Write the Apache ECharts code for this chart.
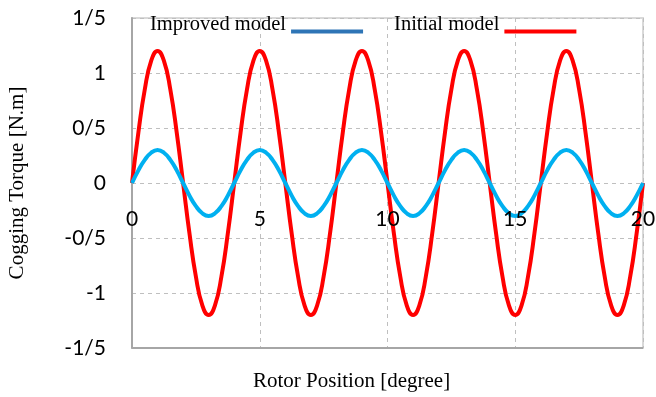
<!DOCTYPE html>
<html>
<head>
<meta charset="utf-8">
<script src="https://cdn.jsdelivr.net/npm/echarts@6/dist/echarts.min.js"></script>
<style>
  html, body { margin: 0; padding: 0; background: #ffffff; }
  #chart { width: 656px; height: 397px; }
</style>
</head>
<body>
<div id="chart"></div>
<script>
// Rotor position samples (degree)
const rotorPosition = [
  0, 0.25, 0.5, 0.75, 1, 1.25, 1.5, 1.75, 2, 2.25, 2.5, 2.75, 3, 3.25, 3.5, 3.75,
  4, 4.25, 4.5, 4.75, 5, 5.25, 5.5, 5.75, 6, 6.25, 6.5, 6.75, 7, 7.25, 7.5, 7.75,
  8, 8.25, 8.5, 8.75, 9, 9.25, 9.5, 9.75, 10, 10.25, 10.5, 10.75, 11, 11.25, 11.5, 11.75,
  12, 12.25, 12.5, 12.75, 13, 13.25, 13.5, 13.75, 14, 14.25, 14.5, 14.75, 15, 15.25, 15.5, 15.75,
  16, 16.25, 16.5, 16.75, 17, 17.25, 17.5, 17.75, 18, 18.25, 18.5, 18.75, 19, 19.25, 19.5, 19.75,
  20
];

// Cogging torque of the initial model (N.m)
const initialTorque = [
  0, 0.46, 0.85, 1.11, 1.2, 1.11, 0.85, 0.46, 0, -0.46, -0.85, -1.11, -1.2, -1.11, -0.85, -0.46,
  0, 0.46, 0.85, 1.11, 1.2, 1.11, 0.85, 0.46, 0, -0.46, -0.85, -1.11, -1.2, -1.11, -0.85, -0.46,
  0, 0.46, 0.85, 1.11, 1.2, 1.11, 0.85, 0.46, 0, -0.46, -0.85, -1.11, -1.2, -1.11, -0.85, -0.46,
  0, 0.46, 0.85, 1.11, 1.2, 1.11, 0.85, 0.46, 0, -0.46, -0.85, -1.11, -1.2, -1.11, -0.85, -0.46,
  0, 0.46, 0.85, 1.11, 1.2, 1.11, 0.85, 0.46, 0, -0.46, -0.85, -1.11, -1.2, -1.11, -0.85, -0.46,
  0
];

// Cogging torque of the improved model (N.m)
const improvedTorque = [
  0, 0.115, 0.21, 0.275, 0.3, 0.275, 0.21, 0.115, 0, -0.115, -0.21, -0.275, -0.3, -0.275, -0.21, -0.115,
  0, 0.115, 0.21, 0.275, 0.3, 0.275, 0.21, 0.115, 0, -0.115, -0.21, -0.275, -0.3, -0.275, -0.21, -0.115,
  0, 0.115, 0.21, 0.275, 0.3, 0.275, 0.21, 0.115, 0, -0.115, -0.21, -0.275, -0.3, -0.275, -0.21, -0.115,
  0, 0.115, 0.21, 0.275, 0.3, 0.275, 0.21, 0.115, 0, -0.115, -0.21, -0.275, -0.3, -0.275, -0.21, -0.115,
  0, 0.115, 0.21, 0.275, 0.3, 0.275, 0.21, 0.115, 0, -0.115, -0.21, -0.275, -0.3, -0.275, -0.21, -0.115,
  0
];

// Y tick values and their printed labels (slash as decimal separator)
const yTickValues = [-1.5, -1, -0.5, 0, 0.5, 1, 1.5];
const yTickLabels = ['-1/5', '-1', '-0/5', '0', '0/5', '1', '1/5'];

// X tick labels
const xTickValues = [0, 5, 10, 15, 20];
const xTickLabels = ['0', '5', '10', '15', '20'];

const seriesNames = ['Improved model', 'Initial model'];
const xTitle = 'Rotor Position [degree]';
const yTitle = 'Cogging Torque [N.m]';

const pairs = (ys) => rotorPosition.map((x, i) => [x, ys[i]]);

const tickFont = 'Lato, "Open Sans", sans-serif';
const serifFont = '"Liberation Serif", "Times New Roman", serif';

// legend swatch: a short bar sitting low beside the text
const legendIcon = 'path://M0,0L1,0M0,14L72,14L72,18L0,18Z';

// plot box (px)
const plotTop = 18;
const plotBottom = 49;
const plotHeight = 397 - plotTop - plotBottom;

const gridLine = { color: '#bfbfbf', type: [4, 4], width: 1 };

const chart = echarts.init(document.getElementById('chart'), null, { renderer: 'canvas' });

chart.setOption({
  animation: false,
  backgroundColor: '#ffffff',
  grid: {
    left: 132, right: 13, top: plotTop, bottom: plotBottom,
    outerBoundsMode: 'none',
    containLabel: false,
    show: true,
    borderColor: '#d9d9d9',
    borderWidth: 2,
    backgroundColor: 'transparent'
  },
  legend: {
    left: 145,
    top: 9,
    align: 'right',
    itemWidth: 72,
    itemHeight: 18,
    itemGap: 31,
    icon: legendIcon,
    selectedMode: false,
    textStyle: {
      fontFamily: serifFont,
      fontSize: 20.5,
      color: '#000000'
    },
    data: [
      { name: seriesNames[0], itemStyle: { color: '#2e75b6' } },
      { name: seriesNames[1], itemStyle: { color: '#ff0000' } }
    ]
  },
  graphic: [
    {
      type: 'text',
      left: 253,
      top: 371,
      silent: true,
      style: {
        text: xTitle,
        fontFamily: serifFont,
        fontSize: 21,
        fill: '#000000'
      }
    }
  ],
  xAxis: [
    {
      // vertical dashed grid behind the curves
      type: 'value',
      min: 0, max: 20, interval: 5,
      position: 'bottom',
      axisLine: { show: false, onZero: false },
      axisTick: { show: false },
      axisLabel: { show: false },
      splitLine: { show: true, lineStyle: gridLine }
    },
    {
      // tick labels lifted to the zero line, drawn above the curves
      type: 'value',
      min: 0, max: 20, interval: 5,
      position: 'bottom',
      offset: -plotHeight / 2,
      z: 10,
      axisLine: { show: false, onZero: false },
      axisTick: { show: false },
      splitLine: { show: false },
      axisLabel: {
        show: true,
        margin: 26,
        fontFamily: tickFont,
        fontSize: 21,
        color: '#000000',
        formatter: (v) => {
          const i = xTickValues.indexOf(v);
          return i >= 0 ? xTickLabels[i] : '';
        }
      }
    }
  ],
  yAxis: {
    type: 'value',
    min: -1.5, max: 1.5, interval: 0.5,
    name: yTitle,
    nameLocation: 'middle',
    nameGap: 104,
    nameTextStyle: {
      fontFamily: serifFont,
      fontSize: 21,
      color: '#000000'
    },
    axisLine: { show: true, onZero: false, lineStyle: { color: '#a6a6a6', width: 2 } },
    axisTick: { show: false },
    axisLabel: {
      margin: 26,
      fontFamily: tickFont,
      fontSize: 21,
      color: '#000000',
      formatter: (v) => {
        const i = yTickValues.findIndex((t) => Math.abs(t - v) < 1e-9);
        return i >= 0 ? yTickLabels[i] : '';
      }
    },
    splitLine: { show: true, lineStyle: gridLine }
  },
  series: [
    {
      name: seriesNames[1],
      type: 'line',
      xAxisIndex: 0,
      data: pairs(initialTorque),
      smooth: true,
      showSymbol: false,
      lineStyle: { color: '#ff0000', width: 4 },
      itemStyle: { color: '#ff0000' },
      z: 2,
      // solid bottom edge of the plot frame
      markLine: {
        silent: true,
        symbol: 'none',
        label: { show: false },
        lineStyle: { color: '#a6a6a6', type: 'solid', width: 2 },
        data: [{ yAxis: yTickValues[0] }]
      }
    },
    {
      name: seriesNames[0],
      type: 'line',
      xAxisIndex: 0,
      data: pairs(improvedTorque),
      smooth: true,
      showSymbol: false,
      lineStyle: { color: '#00b0f0', width: 4 },
      itemStyle: { color: '#00b0f0' },
      z: 3
    }
  ]
});
</script>
</body>
</html>
